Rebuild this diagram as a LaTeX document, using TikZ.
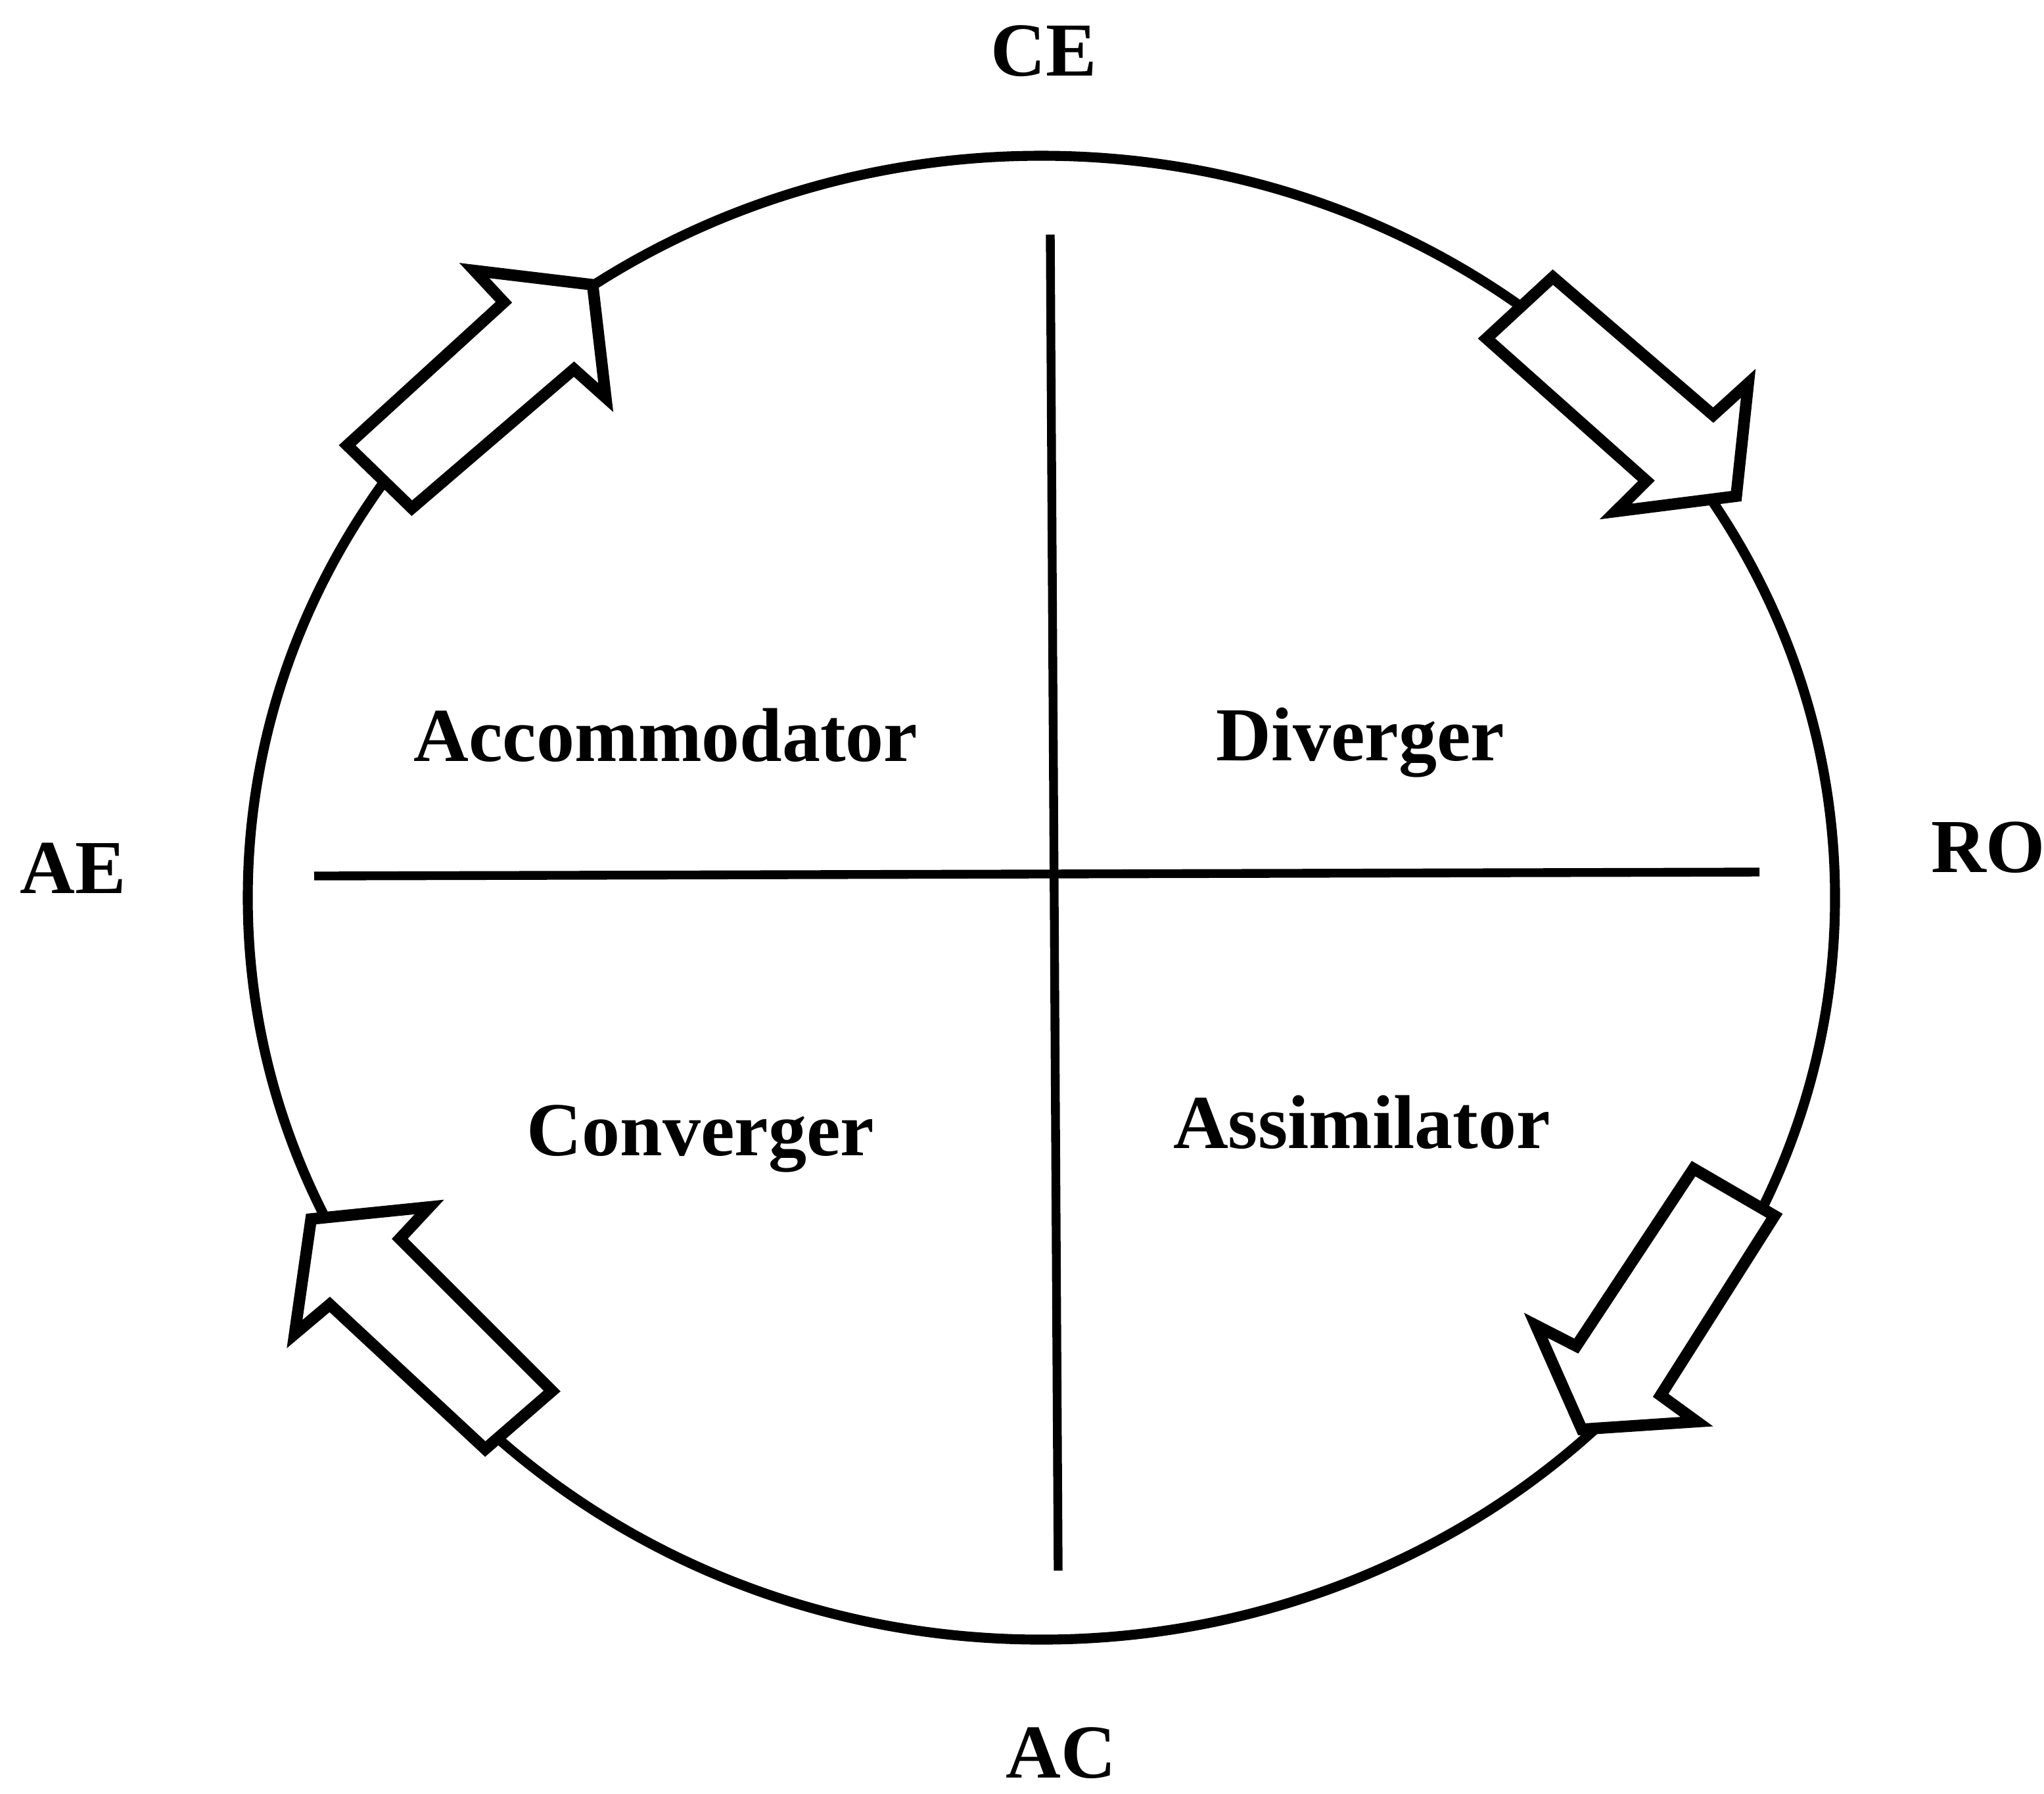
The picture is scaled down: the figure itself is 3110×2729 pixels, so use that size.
\documentclass[tikz,border=0pt]{standalone}
\usepackage{fontspec}
\setmainfont{Liberation Serif}
\begin{document}
\begin{tikzpicture}[x=0.01cm,y=-0.01cm,
  lbl/.style={font=\fontsize{33}{36}\selectfont\bfseries, inner sep=0pt, anchor=base},
  ring/.style={line width=4.3pt},
  divider/.style={line width=3.8pt},
  blockarrow/.style={draw, fill=white, line width=5pt, line join=miter}]
\useasboundingbox (0,0) rectangle (3110,2729);
% outer cycle
\draw[ring] (1584.5,1366) ellipse [x radius=1207.5, y radius=1129];
% dividing axes
\coordinate (vtop) at (1598,357);
\coordinate (vbot) at (1610,2390);
\coordinate (hleft) at (478,1333);
\coordinate (hright) at (2677,1327);
\draw[divider] (vtop) -- (vbot);
\draw[divider] (hleft) -- (hright);
% block arrows on the cycle
\draw[blockarrow] (528.3,677.7) -- (766.7,460) -- (721.7,411.7) -- (901.7,433.3) -- (921.7,605) -- (873.3,561.7) -- (626.7,773.3) -- cycle;
\draw[blockarrow] (2362.7,421.7) -- (2606.7,631.7) -- (2660,583.3) -- (2641.7,755) -- (2458.3,778.3) -- (2505,731.7) -- (2261.7,515) -- cycle;
\draw[blockarrow] (2700,1850) -- (2526.7,2123.3) -- (2581.7,2163.3) -- (2406.7,2175) -- (2336.7,2016.7) -- (2398.3,2048.3) -- (2576.7,1778.3) -- cycle;
\draw[blockarrow] (738.3,2205) -- (501.7,1985) -- (448.3,2030) -- (473.3,1855) -- (653.3,1836.7) -- (608.3,1885) -- (840,2116.7) -- cycle;
% labels
\node[lbl] (ce) at (1588,115) {CE};
\node[lbl] (ae) at (111,1359) {AE};
\node[lbl] (ro) at (3025,1327) {RO};
\node[lbl] (ac) at (1614,2705) {AC};
\node[lbl] (acc) at (1013,1158) {Accommodator};
\node[lbl] (div) at (2070,1157) {Diverger};
\node[lbl] (con) at (1066,1758) {Converger};
\node[lbl] (ass) at (2072,1747) {Assimilator};
\end{tikzpicture}
\end{document}
